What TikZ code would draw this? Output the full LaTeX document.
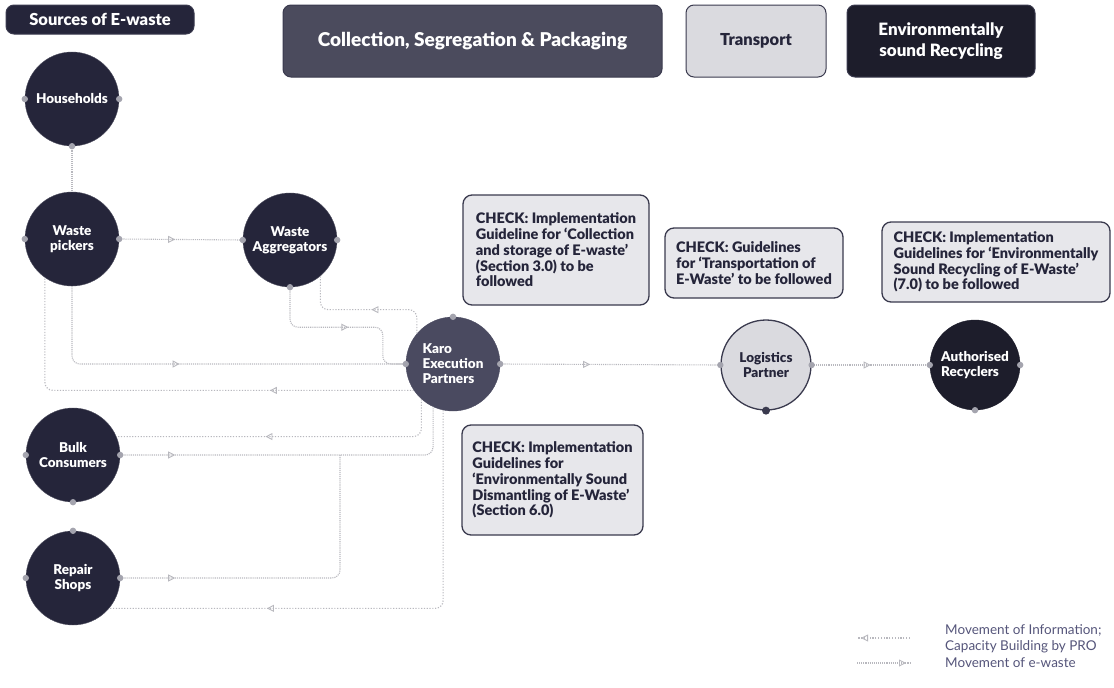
\documentclass[tikz,border=0pt]{standalone}
\usepackage{fontspec}
\IfFontExistsTF{Lato Black}
  {\setmainfont{Lato}[BoldFont={Lato Black}]}
  {\setmainfont{Lato}[BoldFeatures={FakeBold=1.5}]}
\usetikzlibrary{positioning,calc,arrows.meta,decorations.markings}

\definecolor{srcdark}{HTML}{25253A}
\definecolor{karofill}{HTML}{4A4A60}
\definecolor{collfill}{HTML}{4B4B5D}
\definecolor{transfill}{HTML}{DADADF}
\definecolor{recyfill}{HTML}{1D1D2B}
\definecolor{checkfill}{HTML}{E7E7EB}
\definecolor{edgedark}{HTML}{3A3A4E}
\definecolor{flowgrey}{HTML}{B8B8BE}
\definecolor{pingrey}{HTML}{A4A4AE}
\definecolor{legendtext}{HTML}{55557A}

\tikzset{
  source/.style={circle, fill=srcdark, draw=srcdark!80, minimum size=94pt, inner sep=0pt,
    text=white, font=\fontsize{13.5}{15}\selectfont\bfseries, align=center},
  header/.style={rounded corners=8pt, draw=edgedark, line width=1pt, inner sep=0pt,
    font=\fontsize{16.5}{21}\selectfont\bfseries, align=center},
  checkbox/.style={rounded corners=9pt, draw=edgedark, line width=1.3pt, fill=checkfill,
    font=\fontsize{14.5}{15.8}\selectfont\bfseries, align=left, text=srcdark, inner sep=0pt},
  flowline/.style={flowgrey, line width=1.1pt, densely dotted, rounded corners=8pt},
  ewaste/.style={flowline, postaction={decorate, decoration={markings,
    mark=at position #1 with {\arrow[flowgrey, solid]{Triangle[open, length=7pt, width=7pt, line width=0.9pt]}}}}},
  infoflow/.style={ewaste=#1, dash pattern=on 1.2pt off 1.6pt},
  legend/.style={text=legendtext, font=\fontsize{13.5}{15.5}\selectfont, align=left, inner sep=0pt}
}

\begin{document}
\begin{tikzpicture}[x=1pt, y=-1pt]
  \useasboundingbox (0,0) rectangle (1114,688);

  % Stage headers
  \node[header, fill=srcdark, text=white, minimum width=188pt, minimum height=29pt] (hsrc) at (100,19.5) {Sources of E-waste};
  \node[header, fill=collfill, text=white, minimum width=379pt, minimum height=72pt,
    font=\fontsize{19}{21}\selectfont\bfseries] (hcoll) at (472.5,41) {Collection, Segregation \& Packaging};
  \node[header, fill=transfill, text=srcdark, minimum width=140pt, minimum height=72pt] (htrans) at (756,41) {Transport};
  \node[header, fill=recyfill, text=white, minimum width=188pt, minimum height=72pt,
    font=\fontsize{17}{21}\selectfont\bfseries] (hrecy) at (941,41) {Environmentally\\sound Recycling};

  % Sources
  \node[source] (hh) at (72,99) {Households};
  \node[source] (wp) at (72,239) {Waste\\pickers};
  \node[source] (bc) at (73,455) {Bulk\\Consumers};
  \node[source] (rs) at (73,578) {Repair\\Shops};

  % Collection chain
  \node[source] (wa) at (290,240) {Waste\\Aggregators};
  \node[source, fill=karofill, draw=karofill, align=left] (karo) at (453,364) {Karo\\Execution\\Partners};
  \node[source, fill=transfill, draw=edgedark, line width=1.3pt, text=srcdark, minimum size=90pt] (lp) at (766,365) {Logistics\\Partner};
  \node[source, fill=recyfill, draw=recyfill, minimum size=90pt, align=left] (ar) at (975,365) {Authorised\\Recyclers};

  % Checks
  \node[checkbox, minimum width=186pt, minimum height=110pt] (chkcoll) at (556,250)
    {CHECK: Implementation\\Guideline for ‘Collection\\and storage of E-waste’\\(Section 3.0) to be\\followed};
  \node[checkbox, minimum width=178pt, minimum height=70pt] (chktrans) at (754,263)
    {CHECK: Guidelines\\for ‘Transportation of\\E-Waste’ to be followed};
  \node[checkbox, minimum width=228pt, minimum height=80pt] (chkrecy) at (996,262)
    {CHECK: Implementation\\Guidelines for ‘Environmentally\\Sound Recycling of E-Waste’\\(7.0) to be followed};
  \node[checkbox, minimum width=181pt, minimum height=110pt] (chkdism) at (552.5,480)
    {CHECK: Implementation\\Guidelines for\\‘Environmentally Sound\\Dismantling of E-Waste’\\(Section 6.0)};

  % Flows
  \draw[flowline] (hh.south) -- (wp.north);
  \draw[ewaste=56pt] (wp.east) -- (wa.west);
  \draw[ewaste=182pt] (wp.south) |- (karo.west);
  \draw[infoflow=144pt] (karo.214) -| (wp.235);
  \draw[ewaste=95pt] (wa.south) -- ++(0,40) -| ([xshift=-23pt]karo.west) -- (karo.west);
  \draw[infoflow=66pt] (karo.140) -- ++(0,-24) -| (wa.310);
  \draw[infoflow=190pt] (karo.228) |- (bc.23);
  \draw[ewaste=55pt] (bc.east) -| (karo.245);
  \coordinate (jn) at (340,455);
  \draw[ewaste=55pt] (rs.east) -| (jn);
  \draw[infoflow=371pt] (karo.258) |- (rs.320);
  \draw[ewaste=90pt] (karo.east) -- (lp.west);
  \draw[ewaste=59pt] (lp.east) -- (ar.west);

  % Connection points
  \foreach \p in {hh.west, hh.east, hh.south, wp.west, wp.east, wa.west, wa.east, wa.south,
                  karo.north, karo.west, karo.east, lp.west, lp.east, ar.west, ar.east, ar.south,
                  bc.west, bc.east, bc.south, rs.north, rs.west, rs.east}
    \fill[pingrey] (\p) circle (3.2pt);
  \fill[edgedark] (lp.south) circle (4pt);

  % Legend
  \coordinate (infoL) at (857,638);
  \coordinate (infoR) at (910,638);
  \coordinate (ewL) at (857,663);
  \coordinate (ewR) at (910,663);
  \draw[infoflow=-4pt] (infoR) -- (infoL);
  \draw[ewaste=-4pt] (ewL) -- (ewR);
  \node[legend, anchor=west] (leginfo) at (945,639) {Movement of Information;\\Capacity Building by PRO};
  \node[legend, anchor=west] (legew) at (945,663) {Movement of e-waste};
\end{tikzpicture}
\end{document}
